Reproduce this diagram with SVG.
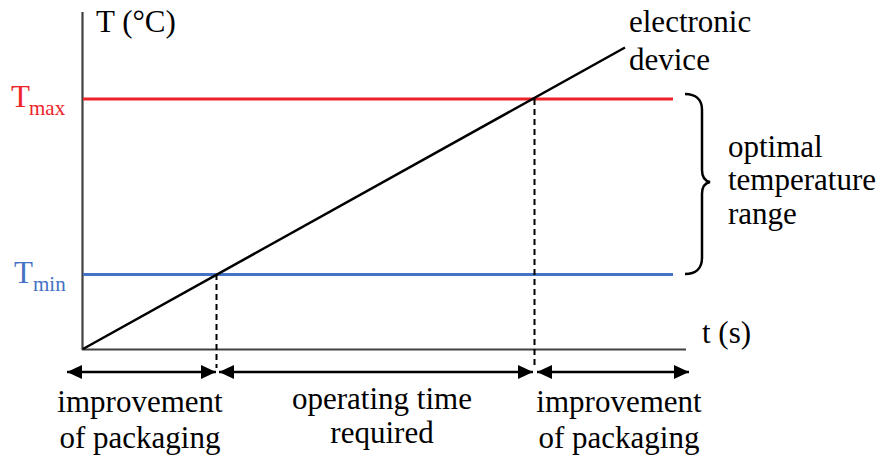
<svg xmlns="http://www.w3.org/2000/svg" width="883" height="459" viewBox="0 0 883 459">
<defs>
<marker id="ah" markerUnits="userSpaceOnUse" markerWidth="16" markerHeight="16" viewBox="0 0 16 16" refX="15" refY="8" orient="auto-start-reverse">
<path d="M0,1 L15,8 L0,15 Z" fill="#000"/>
</marker>
</defs>
<style>
.t{font-family:"Liberation Serif","Times New Roman",serif;font-size:31px;fill:#000}
.sub{font-size:21px}
.axis{stroke:#404040;stroke-width:2.2;fill:none}
.dash{stroke:#000;stroke-width:2;stroke-dasharray:6,4;fill:none}
.dim{stroke:#000;stroke-width:2.6;fill:none;marker-start:url(#ah);marker-end:url(#ah)}
</style>
<rect width="883" height="459" fill="#fff"/>
<g id="axes">
<line class="axis" x1="82.5" y1="12" x2="82.5" y2="350"/>
<line class="axis" x1="82" y1="349.5" x2="686" y2="349.5"/>
<text class="t" x="96" y="32">T (°C)</text>
<text class="t" x="702" y="343">t (s)</text>
</g>
<g id="tmax">
<line x1="83" y1="99" x2="673" y2="99" stroke="#EE2229" stroke-width="3"/>
<text class="t" x="11" y="107" style="fill:#EE2229">T<tspan class="sub" x="29" y="115">max</tspan></text>
</g>
<g id="tmin">
<line x1="83" y1="274.5" x2="673" y2="274.5" stroke="#4472C4" stroke-width="3"/>
<text class="t" x="14" y="283" style="fill:#4472C4">T<tspan class="sub" x="33" y="291">min</tspan></text>
</g>
<g id="device">
<line x1="83" y1="349" x2="625" y2="47.5" stroke="#000" stroke-width="2.5"/>
<text class="t" x="629" y="32">electronic</text>
<text class="t" x="629" y="70">device</text>
</g>
<g id="range">
<path d="M685,94 C696,94 702,100 702,110 L702,170 C702,177 705,181 710,182 C705,183 702,187 702,194 L702,258 C702,268 696,274 685,274" stroke="#000" stroke-width="2.5" fill="none"/>
<text class="t" x="728" y="157">optimal</text>
<text class="t" x="728" y="190">temperature</text>
<text class="t" x="728" y="224">range</text>
</g>
<g id="connectors">
<line class="dash" x1="216.5" y1="274" x2="216.5" y2="368"/>
<line class="dash" x1="534.5" y1="99" x2="534.5" y2="368"/>
<line class="dim" x1="67" y1="372" x2="216" y2="372"/>
<line class="dim" x1="219" y1="372" x2="533" y2="372"/>
<line class="dim" x1="537" y1="372" x2="689" y2="372"/>
</g>
<g id="label-left">
<text class="t" x="140" y="412" text-anchor="middle">improvement</text>
<text class="t" x="140" y="448" text-anchor="middle">of packaging</text>
</g>
<g id="label-mid">
<text class="t" x="382" y="409" text-anchor="middle">operating time</text>
<text class="t" x="382" y="443" text-anchor="middle">required</text>
</g>
<g id="label-right">
<text class="t" x="619" y="412" text-anchor="middle">improvement</text>
<text class="t" x="619" y="448" text-anchor="middle">of packaging</text>
</g>
</svg>
